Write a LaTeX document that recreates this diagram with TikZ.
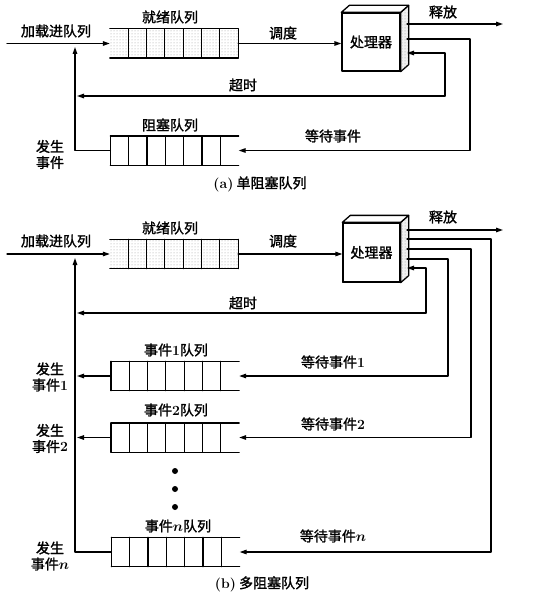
\documentclass[tikz,border=0pt]{standalone}
\usepackage{bm}
\usepackage{fontspec}
\newfontfamily\cjk{Noto Sans CJK SC}[FakeBold=1.5]
\usetikzlibrary{arrows.meta}
\usetikzlibrary{calc}
\usetikzlibrary{patterns}

\tikzset{
  lbl/.style={font=\cjk\fontsize{14}{16}\selectfont, inner sep=0pt},
  qnode/.style={minimum width=127pt, minimum height=28pt, inner sep=0pt},
  cpu/.style={draw, fill=white, minimum width=58pt, minimum height=58pt, inner sep=0pt,
    font=\cjk\fontsize{14}{16}\selectfont},
  stip/.style={pattern=dots, pattern color=black!40},
}

% queue with 7 cells, #2 = closed end (west/east), #3 = fill
\newcommand\qcells[3]{%
  \fill[#3] (#1.north west) rectangle (#1.south east);
  \draw (#1.north west) -- (#1.north east) (#1.south west) -- (#1.south east)
    (#1.north #2) -- (#1.south #2);
  \foreach \i in {1,...,6}
    \draw ($(#1.north west)!\i/7!(#1.north east)$) -- ($(#1.south west)!\i/7!(#1.south east)$);
}
% side and top face of the processor box
\newcommand\cpuside[1]{%
  \filldraw[fill=black!6] (#1.north east) -- ++(8,-7) -- ($(#1.south east)+(8,-7)$)
    -- (#1.south east) -- cycle;
  \fill[stip] (#1.north east) -- ++(8,-7) -- ($(#1.south east)+(8,-7)$)
    -- (#1.south east) -- cycle;
  \draw[fill=white] (#1.north west) -- ++(8,-7) -- ($(#1.north east)+(8,-7)$)
    -- (#1.north east) -- cycle;
}
\newcommand\rmb[1]{\textrm{\bfseries #1}}

\begin{document}
\begin{tikzpicture}[x=1pt, y=-1pt, line cap=round, line join=round,
  >={Triangle[length=7pt,width=4.5pt]}, line width=1.3pt]
  \useasboundingbox (0,0) rectangle (539,607);

  % (a) single blocked queue
  \node[qnode] (rqa) at (174,43.5) {};
  \node[qnode] (bqa) at (174.5,150.5) {};
  \qcells{rqa}{east}{stip}
  \qcells{bqa}{west}{white}
  \node[cpu] (pa) at (371,42) {处理器};
  \cpuside{pa}

  \coordinate (ina) at (7,43.5);
  \coordinate (jna) at (75,47);
  \coordinate (rla) at (407,24);
  \coordinate (rea) at (503,24);
  \coordinate (wsa) at (407,39);
  \coordinate (wca) at (470,150.5);
  \coordinate (tsa) at (407,53);
  \coordinate (tca) at (445,96);
  \coordinate (tea) at (77,96);

  \draw[->] (ina) -- (rqa.west);
  \draw[->] (rqa.east) -- (rqa.east -| pa.west);
  \draw[->] (rla) -- (rea);
  \draw[->] (wsa) -| (wca) -- (bqa.east);
  \draw[->] (tca) |- (tsa);
  \draw[->] (tca) -- (tea);
  \draw[->] (bqa.west) -| (jna);

  \node[lbl] (lda) at (56,31) {加载进队列};
  \node[lbl] (rta) at (170,17) {就绪队列};
  \node[lbl] (dda) at (283,33) {调度};
  \node[lbl] (sfa) at (443,12) {释放};
  \node[lbl] (csa) at (243,85) {超时};
  \node[lbl] (dsa) at (333,136) {等待事件};
  \node[lbl] (bta) at (170,125) {阻塞队列};
  \node[lbl, align=center] (fsa) at (50,154.5) {发生\\事件};
  \node[lbl] (cpa) at (260,184) {\rmb{(a)} 单阻塞队列};

  % (b) several blocked queues
  \node[qnode] (rqb) at (174,254) {};
  \node[qnode] (e1q) at (175,376) {};
  \node[qnode] (e2q) at (175,437.5) {};
  \node[qnode] (enq) at (175.5,552) {};
  \qcells{rqb}{east}{stip}
  \foreach \q in {e1q,e2q,enq}
    \qcells{\q}{west}{white}
  \node[cpu, minimum height=59pt, minimum width=57pt] (pb) at (371.5,252.5) {处理器};
  \cpuside{pb}

  \coordinate (inb) at (7,254);
  \coordinate (jnb) at (75,258);
  \coordinate (lxb) at (77,0);
  \coordinate (rlb) at (407,230);
  \coordinate (reb) at (503,230);
  \coordinate (tsb) at (407,268);
  \coordinate (tcb) at (426,313);
  \coordinate (teb) at (77,313);

  \draw[->] (inb) -- (rqb.west);
  \draw[->] (rqb.east) -- (rqb.east -| pb.west);
  \draw[->] (rlb) -- (reb);
  \foreach \y/\x/\q in {239/491/enq, 249/471/e2q, 259/448/e1q}
    \draw[->] (407,\y) -| (\x,0 |- \q.east) -- (\q.east);
  \draw[->] (tcb) |- (tsb);
  \draw[->] (tcb) -- (teb);
  \draw[->] (enq.west) -| (jnb);
  \draw[->] (e1q.west) -- (e1q.west -| lxb);
  \draw[->] (e2q.west) -- (e2q.west -| lxb);

  \foreach \d in {471,489,507}
    \fill (175,\d) circle (3pt);

  \node[lbl] (ldb) at (56,241) {加载进队列};
  \node[lbl] (rtb) at (170,228) {就绪队列};
  \node[lbl] (ddb) at (283,241) {调度};
  \node[lbl] (sfb) at (443,217) {释放};
  \node[lbl] (csb) at (243,303) {超时};
  \node[lbl] (t1b) at (176,350) {事件\rmb{1}队列};
  \node[lbl] (t2b) at (176,410) {事件\rmb{2}队列};
  \node[lbl] (tnb) at (178,526) {事件$\bm{n}$队列};
  \node[lbl] (d1b) at (333,362) {等待事件\rmb{1}};
  \node[lbl] (d2b) at (333,424) {等待事件\rmb{2}};
  \node[lbl] (dnb) at (333,536) {等待事件$\bm{n}$};
  \node[lbl, align=center] (f1b) at (50,377) {发生\\事件\rmb{1}};
  \node[lbl, align=center] (f2b) at (50,438.5) {发生\\事件\rmb{2}};
  \node[lbl, align=center] (fnb) at (50,556) {发生\\事件$\bm{n}$};
  \node[lbl] (cpb) at (262,584) {\rmb{(b)} 多阻塞队列};
\end{tikzpicture}
\end{document}
